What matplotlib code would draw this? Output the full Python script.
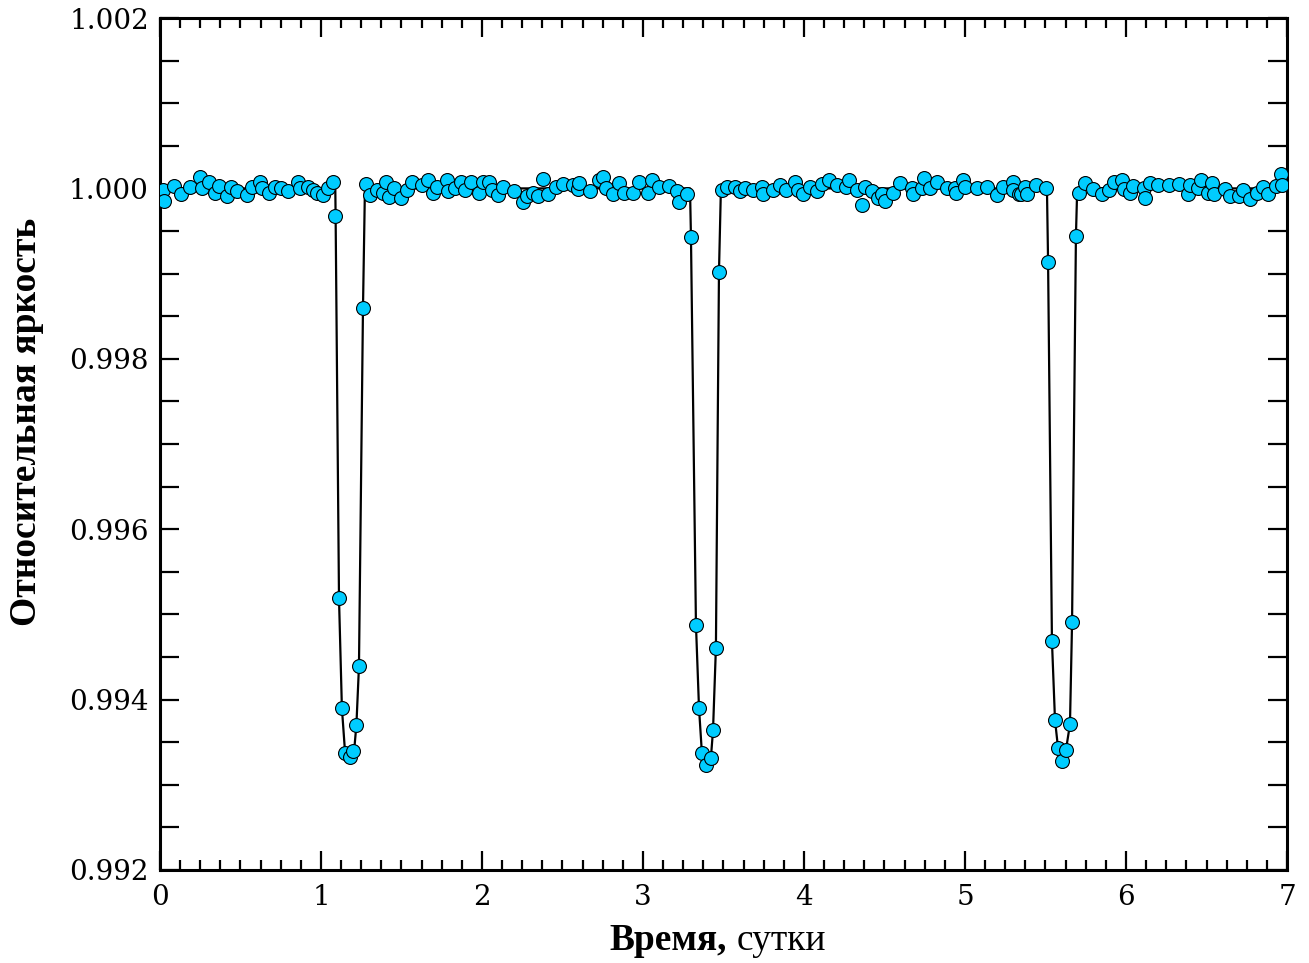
import matplotlib
matplotlib.use("Agg")
import matplotlib.pyplot as plt
from matplotlib.ticker import MultipleLocator, FormatStrFormatter

# observations: time (days), relative flux
t_obs = [0.018, 0.028, 0.087, 0.128, 0.186, 0.248, 0.259, 0.306, 0.342, 0.368,
         0.414, 0.439, 0.480, 0.538, 0.569, 0.621, 0.632, 0.679, 0.714, 0.749,
         0.797, 0.859, 0.870, 0.921, 0.948, 0.973, 1.010, 1.046, 1.072,
         1.087, 1.112, 1.130, 1.149, 1.180, 1.199, 1.217, 1.236, 1.261, 1.280,
         1.304, 1.346, 1.387, 1.402, 1.424, 1.455, 1.495, 1.532, 1.567, 1.625,
         1.667, 1.698, 1.718, 1.781, 1.791, 1.832, 1.868, 1.894, 1.930, 1.983,
         2.008, 2.045, 2.060, 2.100, 2.132, 2.199, 2.257, 2.277, 2.319, 2.345,
         2.377, 2.412, 2.460, 2.505, 2.563, 2.598, 2.605, 2.671, 2.729, 2.750,
         2.770, 2.816, 2.853, 2.882, 2.940, 2.977, 3.033, 3.054, 3.101, 3.163,
         3.213, 3.226, 3.275,
         3.298, 3.329, 3.348, 3.366, 3.391, 3.422, 3.435, 3.453, 3.472, 3.491,
         3.520, 3.571, 3.602, 3.634, 3.685, 3.737, 3.743, 3.805, 3.851, 3.888,
         3.944, 3.965, 3.996, 4.037, 4.083, 4.110, 4.157, 4.207, 4.261, 4.282,
         4.327, 4.358, 4.379, 4.420, 4.462, 4.482, 4.503, 4.555, 4.596, 4.669,
         4.680, 4.731, 4.745, 4.783, 4.824, 4.886, 4.938, 4.944, 4.990, 5.000,
         5.072, 5.134, 5.197, 5.234, 5.296, 5.300, 5.337, 5.350, 5.373, 5.383,
         5.439, 5.501,
         5.516, 5.540, 5.559, 5.578, 5.602, 5.627, 5.652, 5.665, 5.689, 5.708,
         5.745, 5.797, 5.849, 5.894, 5.927, 5.977, 5.989, 6.025, 6.045, 6.110,
         6.118, 6.149, 6.201, 6.267, 6.329, 6.383, 6.398, 6.445, 6.466, 6.511,
         6.532, 6.548, 6.615, 6.646, 6.702, 6.729, 6.770, 6.812, 6.853, 6.880,
         6.930, 6.963, 6.968]
f_obs = [0.99998, 0.99985, 1.00003, 0.99993, 1.00002, 1.00013, 1.00000, 1.00007, 0.99995, 1.00003,
         0.99991, 1.00002, 0.99997, 0.99992, 1.00002, 1.00008, 1.00000, 0.99995, 1.00002, 1.00000,
         0.99997, 1.00008, 1.00000, 1.00002, 0.99998, 0.99995, 0.99992, 1.00000, 1.00008,
         0.99968, 0.99519, 0.99390, 0.99337, 0.99333, 0.99340, 0.99370, 0.99439, 0.99860, 1.00005,
         0.99992, 0.99998, 0.99995, 1.00008, 0.99990, 1.00000, 0.99989, 0.99998, 1.00008, 1.00004,
         1.00010, 0.99995, 1.00002, 1.00010, 0.99997, 1.00000, 1.00008, 0.99998, 1.00008, 0.99995,
         1.00008, 1.00008, 0.99998, 0.99992, 1.00002, 0.99997, 0.99984, 0.99991, 0.99995, 0.99991,
         1.00011, 0.99993, 1.00002, 1.00005, 1.00004, 0.99999, 1.00006, 0.99997, 1.00010, 1.00013,
         1.00000, 0.99994, 1.00006, 0.99995, 0.99995, 1.00008, 0.99995, 1.00010, 1.00002, 1.00003,
         0.99997, 0.99984, 0.99994,
         0.99943, 0.99488, 0.99390, 0.99337, 0.99323, 0.99332, 0.99364, 0.99461, 0.99902, 0.99998,
         1.00002, 1.00002, 0.99997, 1.00000, 0.99998, 1.00002, 0.99993, 0.99998, 1.00004, 0.99998,
         1.00007, 0.99998, 0.99993, 1.00002, 0.99997, 1.00005, 1.00010, 1.00004, 1.00002, 1.00010,
         0.99998, 0.99980, 1.00002, 0.99997, 0.99989, 0.99993, 0.99985, 0.99995, 1.00006, 1.00000,
         0.99993, 1.00000, 1.00012, 1.00000, 1.00008, 1.00000, 1.00000, 0.99995, 1.00010, 1.00002,
         1.00000, 1.00002, 0.99992, 1.00002, 1.00008, 0.99998, 0.99993, 0.99993, 1.00002, 0.99993,
         1.00004, 1.00001,
         0.99914, 0.99469, 0.99376, 0.99343, 0.99328, 0.99341, 0.99371, 0.99491, 0.99944, 0.99995,
         1.00006, 0.99999, 0.99993, 0.99998, 1.00008, 1.00010, 0.99999, 0.99995, 1.00003, 1.00000,
         0.99989, 1.00006, 1.00004, 1.00004, 1.00005, 0.99993, 1.00004, 1.00000, 1.00010, 0.99995,
         1.00006, 0.99993, 0.99999, 0.99991, 0.99991, 0.99998, 0.99988, 0.99995, 1.00002, 0.99993,
         1.00003, 1.00017, 1.00004]

# transit model curve
t_model = [0.0, 1.089, 1.091, 1.112, 1.130, 1.150, 1.180, 1.205, 1.220, 1.236, 1.261, 1.273,
           3.292, 3.298, 3.329, 3.348, 3.366, 3.391, 3.422, 3.435, 3.453, 3.472, 3.484,
           5.509, 5.516, 5.540, 5.559, 5.578, 5.602, 5.627, 5.652, 5.665, 5.689, 5.697, 7.0]
f_model = [1.0, 1.0, 0.99967, 0.99519, 0.99390, 0.99337, 0.99330, 0.99338, 0.99370, 0.99439, 0.99860, 1.0,
           1.0, 0.99943, 0.99488, 0.99390, 0.99337, 0.99323, 0.99332, 0.99364, 0.99461, 0.99902, 1.0,
           1.0, 0.99914, 0.99469, 0.99376, 0.99343, 0.99328, 0.99341, 0.99371, 0.99491, 0.99944, 1.0, 1.0]

fig = plt.figure(figsize=(13.09, 9.63), dpi=100)
ax = fig.add_axes([0.1222, 0.0966, 0.8610, 0.8847])

ax.plot(t_model, f_model, color="black", lw=1.6, zorder=2)
ax.plot(t_obs, f_obs, "o", ms=10, mfc="#00CCFF", mec="black", mew=0.8, zorder=3)

ax.set_xlim(0, 7)
ax.set_ylim(0.992, 1.002)
ax.xaxis.set_major_locator(MultipleLocator(1))
ax.xaxis.set_minor_locator(MultipleLocator(0.125))
ax.yaxis.set_major_locator(MultipleLocator(0.002))
ax.yaxis.set_minor_locator(MultipleLocator(0.0005))
ax.yaxis.set_major_formatter(FormatStrFormatter("%.3f"))

for s in ax.spines.values():
    s.set_linewidth(2.2)
ax.tick_params(which="both", direction="in", top=True, right=True, width=1.6)
ax.tick_params(which="major", length=14)
ax.tick_params(axis="x", which="minor", length=7)
ax.tick_params(axis="y", which="minor", length=14)
ax.tick_params(axis="x", which="major", pad=10)
ax.tick_params(axis="y", which="major", pad=8)
for lab in ax.get_xticklabels() + ax.get_yticklabels():
    lab.set_fontfamily("DejaVu Serif")
    lab.set_fontsize(20)

fig.text(27 / 1309, 1 - 422 / 963, "Относительная яркость", rotation=90,
         ha="center", va="center", fontsize=27, fontweight="bold",
         family="Liberation Serif")
ax.text(0.503, -0.094, "Время,", transform=ax.transAxes, ha="right", va="baseline",
        fontsize=27, fontweight="bold", family="Liberation Serif")
ax.text(0.512, -0.094, "сутки", transform=ax.transAxes, ha="left", va="baseline",
        fontsize=27, family="Liberation Serif")

fig.savefig("out.png", dpi=100)
